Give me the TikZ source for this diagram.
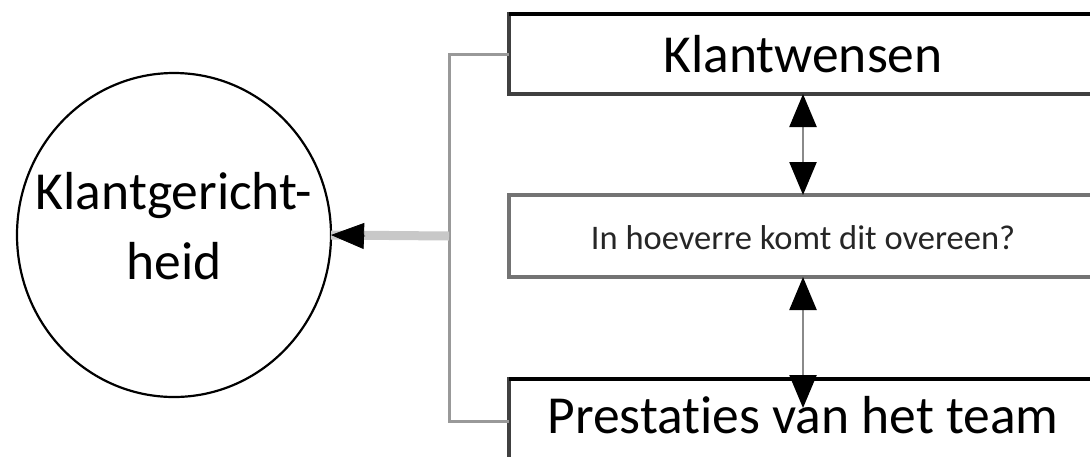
\documentclass[tikz,border=0pt]{standalone}
\usepackage{fontspec}
\setmainfont{Carlito}[Ligatures=NoCommon]
\usetikzlibrary{arrows.meta,shapes.geometric}
\definecolor{conngray}{HTML}{999999}
\definecolor{thickgray}{HTML}{C8C8C8}
\definecolor{arrgray}{HTML}{8A8A8A}
\begin{document}
\begin{tikzpicture}[x=0.5pt,y=-0.5pt,
  bigtext/.style={font=\fontsize{26.75pt}{35pt}\selectfont},
  smalltext/.style={font=\fontsize{17.25pt}{21pt}\selectfont, text=black!85},
  box/.style={draw=black!75, line width=1.75pt, fill=white, minimum width=294pt,
    inner sep=0pt, outer sep=0pt, text depth=0pt},
  topedge/.style={draw=black, line width=1.75pt},
  conn/.style={draw=conngray, line width=1.5pt},
  thickconn/.style={draw=thickgray, line width=4.5pt},
  headtip/.style={-{Triangle[length=16.5pt,width=13pt]}, draw=black, line width=0.4pt},
  dblarrow/.style={{Triangle[length=16.5pt,width=13.5pt,black]}-{Triangle[length=16.5pt,width=13.5pt,black]},
    draw=arrgray, line width=1.2pt}]
\useasboundingbox (0,0) rectangle (1090,456);
\clip (0,0) rectangle (1090,456);
\fill[white] (0,0) rectangle (1090,456);

\node[draw, ellipse, line width=1.1pt, minimum width=157pt, minimum height=162pt,
  inner sep=0pt, outer sep=0pt] (kg) at (174,235) {};
\node[align=center, bigtext, inner sep=0pt] (kgt) at (174,226) {Klantgericht-\\heid};

\node[box, minimum height=40pt, text height=18pt, bigtext] (kw) at (803,54) {Klantwensen};
\node[box, draw=black!55, line width=2pt, minimum height=41pt, text height=13pt, smalltext] (ov) at (803,236) {In hoeverre komt dit overeen?};
\node[box, minimum height=42pt, text height=12pt, bigtext] (pr) at (803,421) {Prestaties van het team};

\draw[topedge] (kw.north west) -- (kw.north east);
\draw[topedge] (pr.north west) -- (pr.north east);

\coordinate (jn) at (449,236);
\draw[conn] (kw.west) -| (jn) |- (pr.west);
\draw[thickconn] (jn) -- (kg.east);
\coordinate (hb) at (365,236);
\draw[headtip] (hb) -- (kg.east);

\coordinate (prtip) at (803,408);
\draw[dblarrow] (kw.south) -- (ov.north);
\draw[dblarrow] (ov.south) -- (prtip);
\end{tikzpicture}
\end{document}
